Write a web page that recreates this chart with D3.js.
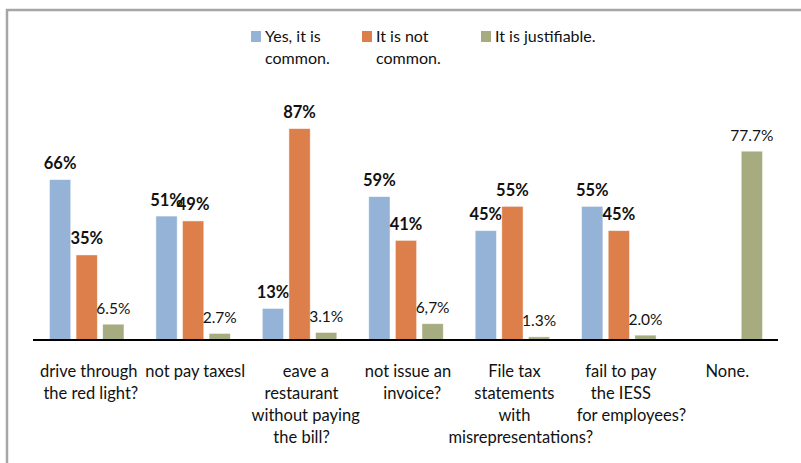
<!DOCTYPE html>
<html>
<head>
<meta charset="utf-8">
<script src="https://cdn.jsdelivr.net/npm/d3@7"></script>
<style>
  html, body { margin: 0; padding: 0; background: #fff; }
  svg { display: block; }
  text { font-family: Lato, "Open Sans", "Liberation Sans", sans-serif; fill: #111; }
</style>
</head>
<body>
<svg id="chart" width="801" height="463"></svg>
<script>
// Survey categories, one entry per group of bars (each line is a wrapped row of the label)
const categories = [
  ["drive through", " the red light?"],
  ["not pay taxesl"],
  ["  eave a", "restaurant", "  without paying", "the bill?"],
  ["not issue an", "  invoice?"],
  ["File tax", "statements", "with", "   misrepresentations?"],
  ["fail to pay", "the IESS", "     for employees?"],
  ["None."]
];

// Series names as shown in the legend
const seriesNames = [
  ["Yes, it is", "common."],
  ["It is not", "common."],
  ["It is justifiable."]
];

// Percentages per series (null = no bar)
const yesCommon   = [66, 51, 13, 59, 45, 55, null];
const notCommon   = [35, 49, 87, 41, 55, 45, null];
const justifiable = [6.5, 2.7, 3.1, 6.7, 1.3, 2.0, 77.7];

// Data label text per series
const yesLabels   = ["66%", "51%", "13%", "59%", "45%", "55%", null];
const notLabels   = ["35%", "49%", "87%", "41%", "55%", "45%", null];
const justLabels  = ["6.5%", "2.7%", "3.1%", "6,7%", "1.3%", "2.0%", "77.7%"];

const seriesValues = [yesCommon, notCommon, justifiable];
const seriesLabels = [yesLabels, notLabels, justLabels];
const colors = ["#95b3d7", "#dc7f4b", "#a6ab80"];
const boldLabels = [true, true, false];

const svg = d3.select("#chart");

// outer frame
svg.append("rect")
  .attr("x", 7).attr("y", 10)
  .attr("width", 820).attr("height", 480)
  .attr("fill", "none")
  .attr("stroke", "#a6a6a6")
  .attr("stroke-width", 2.5);

const plotLeft = 33, plotRight = 778, baseY = 340, topY = 97;

const x0 = d3.scaleBand()
  .domain(d3.range(categories.length))
  .range([plotLeft + 0.5, plotRight + 0.5])
  .paddingInner(0).paddingOuter(0);

const x1 = d3.scaleBand()
  .domain(d3.range(seriesValues.length))
  .range([0, x0.bandwidth()])
  .paddingInner(0.2).paddingOuter(0.6);

const y = d3.scaleLinear().domain([0, 100]).range([baseY, topY]);

// bars and labels
seriesValues.forEach((vals, s) => {
  const g = svg.append("g");
  vals.forEach((v, i) => {
    if (v == null) return;
    const bx = x0(i) + x1(s);
    g.append("rect")
      .attr("x", bx)
      .attr("y", y(v))
      .attr("width", x1.bandwidth())
      .attr("height", baseY - y(v))
      .attr("fill", colors[s])
      .attr("stroke", "rgba(255,255,255,0.6)")
      .attr("stroke-width", 0.8);
    const lab = seriesLabels[s][i];
    if (lab) {
      g.append("text")
        .attr("x", bx + x1.bandwidth() / 2)
        .attr("y", y(v) - 10.5)
        .attr("text-anchor", "middle")
        .style("font-size", boldLabels[s] ? "16.5px" : "15.5px")
        .style("font-weight", boldLabels[s] ? "700" : "400")
        .text(lab);
    }
  });
});

// baseline
svg.append("line")
  .attr("x1", plotLeft).attr("x2", plotRight)
  .attr("y1", baseY).attr("y2", baseY)
  .attr("stroke", "#000").attr("stroke-width", 2);

// category labels
categories.forEach((lines, i) => {
  const t = svg.append("text")
    .attr("text-anchor", "middle")
    .attr("xml:space", "preserve")
    .style("white-space", "pre")
    .style("font-size", "16.5px");
  lines.forEach((ln, k) => {
    t.append("tspan")
      .attr("x", x0(i) + x0.bandwidth() / 2 + 2)
      .attr("y", 377 + k * 22)
      .text(ln);
  });
});

// legend
const legendX = [251, 362, 481];
seriesNames.forEach((lines, s) => {
  svg.append("rect")
    .attr("x", legendX[s]).attr("y", 31)
    .attr("width", 10).attr("height", 11)
    .attr("fill", colors[s]);
  const t = svg.append("text").style("font-size", "16px");
  lines.forEach((ln, k) => {
    t.append("tspan")
      .attr("x", legendX[s] + 14)
      .attr("y", 42 + k * 22)
      .text(ln);
  });
});
</script>
</body>
</html>
